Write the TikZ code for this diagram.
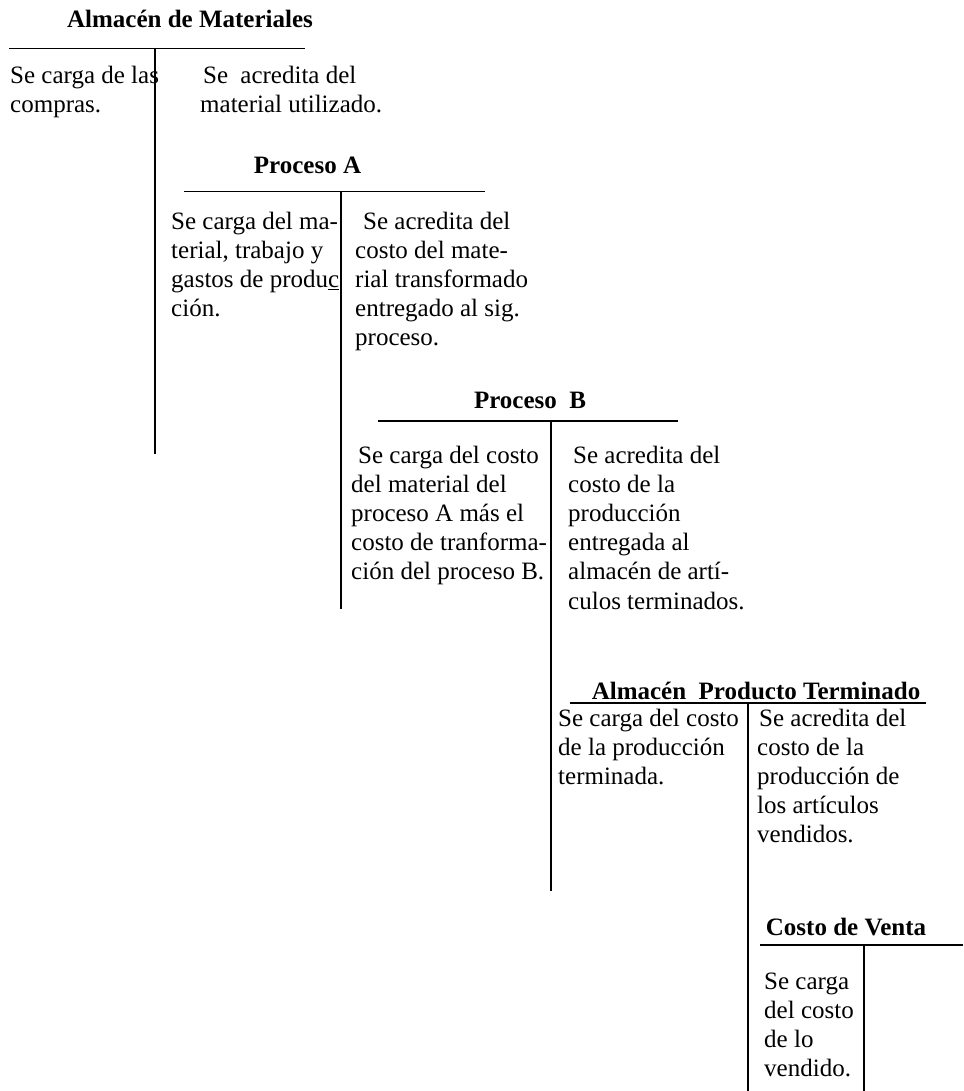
\documentclass[tikz,border=0pt]{standalone}
\usepackage{fontspec}
\setmainfont{Liberation Serif}
\newcommand\bodyfont{\fontsize{25}{29.2}\selectfont}
\tikzset{
  ledger/.style={line width=1.6pt, black},
  title/.style={anchor=base, inner sep=0pt, font=\bodyfont\bfseries},
  txt/.style={anchor=north west, inner sep=0pt, align=left, font=\bodyfont, execute at begin node=\strut}
}
\begin{document}
\begin{tikzpicture}[x=1pt,y=-1pt]
\useasboundingbox (0,0) rectangle (963,1091);
% Almacen de Materiales
\node[title] (tAM) at (190,28) {Almacén de Materiales};
\coordinate (h1a) at (9,48.7);
\coordinate (h1b) at (305,48.7);
\coordinate (v1a) at (155,48.7);
\coordinate (v1b) at (155,454);
\draw[ledger] (h1a) -- (h1b);
\draw[ledger] (v1a) -- (v1b);
\node[txt] (l1) at (10,86-20.44) {Se carga de las\\compras.};
\node[txt] (r1) at (200,86-20.44) {\hspace{3pt}Se\hspace{6pt} acredita del\\material utilizado.};
% Proceso A
\node[title] (tPA) at (307.5,174) {Proceso A};
\coordinate (h2a) at (184,191.4);
\coordinate (h2b) at (485,191.4);
\coordinate (v2a) at (341,191.4);
\coordinate (v2b) at (341,609);
\draw[ledger] (h2a) -- (h2b);
\draw[ledger] (v2a) -- (v2b);
\node[txt] (l2) at (171,232-20.44) {Se carga del ma-\\terial, trabajo y\\gastos de produ\underline{c}\\ción.};
\node[txt] (r2) at (355,232-20.44) {\hspace{8pt}Se acredita del\\costo del mate-\\rial transformado\\entregado al sig.\\proceso.};
% Proceso B
\node[title] (tPB) at (530,408.5) {Proceso\hspace{6.25pt} B};
\coordinate (h3a) at (378,421);
\coordinate (h3b) at (677.5,421);
\coordinate (v3a) at (551,421);
\coordinate (v3b) at (551,891);
\draw[ledger] (h3a) -- (h3b);
\draw[ledger] (v3a) -- (v3b);
\node[txt] (l3) at (351,466-20.44) {\hspace{7pt}Se carga del costo\\del material del\\proceso A más el\\costo de tranforma-\\ción del proceso B.};
\node[txt] (r3) at (568,466-20.44) {\hspace{5pt}Se acredita del\\costo de la\\producción\\entregada al\\almacén de artí-\\culos terminados.};
% Almacen Producto Terminado
\node[title] (tPT) at (756,699) {Almacén\hspace{6.25pt} Producto Terminado};
\coordinate (h4a) at (570,703);
\coordinate (h4b) at (926,703);
\coordinate (v4a) at (748,703);
\coordinate (v4b) at (748,1091);
\draw[ledger] (h4a) -- (h4b);
\draw[ledger] (v4a) -- (v4b);
\node[txt] (l4) at (558,729-20.44) {Se carga del costo\\de la producción\\terminada.};
\node[txt] (r4) at (757,729-20.44) {\hspace{2pt}Se acredita del\\costo de la\\producción de\\los artículos\\vendidos.};
% Costo de Venta
\node[title] (tCV) at (846,935) {Costo de Venta};
\coordinate (h5a) at (760,945);
\coordinate (h5b) at (963,945);
\coordinate (v5a) at (864,945);
\coordinate (v5b) at (864,1091);
\draw[ledger] (h5a) -- (h5b);
\draw[ledger] (v5a) -- (v5b);
\node[txt] (l5) at (764,993-20.44) {Se carga\\del costo\\de lo\\vendido.};
\end{tikzpicture}
\end{document}
